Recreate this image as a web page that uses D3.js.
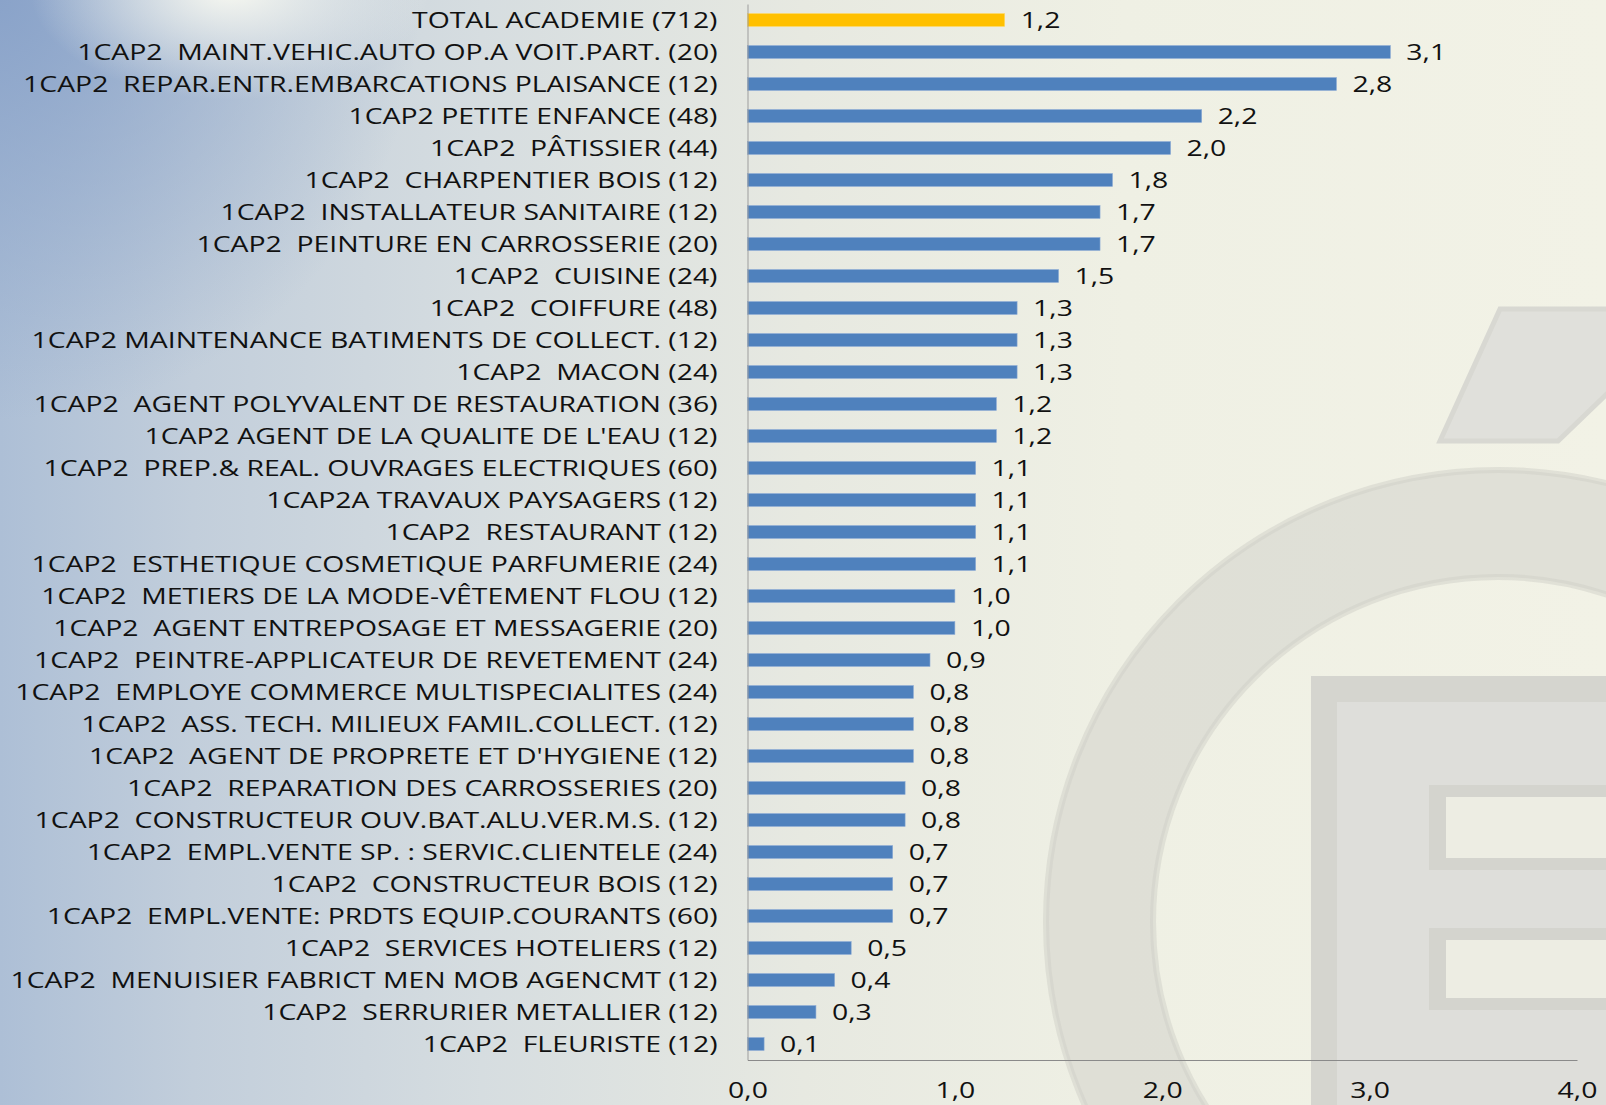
<!DOCTYPE html>
<html>
<head>
<meta charset="utf-8">
<script src="https://cdn.jsdelivr.net/npm/d3@7"></script>
<style>
  html, body { margin: 0; padding: 0; overflow: hidden; }
  svg { display: block; }
  text { font-family: "Open Sans", sans-serif; white-space: pre; }
</style>
</head>
<body>
<svg id="viz" width="1606" height="1105"></svg>
<script>
const W = 1606, H = 1105;

// données (taux en %)
const categories = [
  "TOTAL ACADEMIE (712)",
  "1CAP2  MAINT.VEHIC.AUTO OP.A VOIT.PART. (20)",
  "1CAP2  REPAR.ENTR.EMBARCATIONS PLAISANCE (12)",
  "1CAP2 PETITE ENFANCE (48)",
  "1CAP2  PÂTISSIER (44)",
  "1CAP2  CHARPENTIER BOIS (12)",
  "1CAP2  INSTALLATEUR SANITAIRE (12)",
  "1CAP2  PEINTURE EN CARROSSERIE (20)",
  "1CAP2  CUISINE (24)",
  "1CAP2  COIFFURE (48)",
  "1CAP2 MAINTENANCE BATIMENTS DE COLLECT. (12)",
  "1CAP2  MACON (24)",
  "1CAP2  AGENT POLYVALENT DE RESTAURATION (36)",
  "1CAP2 AGENT DE LA QUALITE DE L'EAU (12)",
  "1CAP2  PREP.& REAL. OUVRAGES ELECTRIQUES (60)",
  "1CAP2A TRAVAUX PAYSAGERS (12)",
  "1CAP2  RESTAURANT (12)",
  "1CAP2  ESTHETIQUE COSMETIQUE PARFUMERIE (24)",
  "1CAP2  METIERS DE LA MODE-VÊTEMENT FLOU (12)",
  "1CAP2  AGENT ENTREPOSAGE ET MESSAGERIE (20)",
  "1CAP2  PEINTRE-APPLICATEUR DE REVETEMENT (24)",
  "1CAP2  EMPLOYE COMMERCE MULTISPECIALITES (24)",
  "1CAP2  ASS. TECH. MILIEUX FAMIL.COLLECT. (12)",
  "1CAP2  AGENT DE PROPRETE ET D'HYGIENE (12)",
  "1CAP2  REPARATION DES CARROSSERIES (20)",
  "1CAP2  CONSTRUCTEUR OUV.BAT.ALU.VER.M.S. (12)",
  "1CAP2  EMPL.VENTE SP. : SERVIC.CLIENTELE (24)",
  "1CAP2  CONSTRUCTEUR BOIS (12)",
  "1CAP2  EMPL.VENTE: PRDTS EQUIP.COURANTS (60)",
  "1CAP2  SERVICES HOTELIERS (12)",
  "1CAP2  MENUISIER FABRICT MEN MOB AGENCMT (12)",
  "1CAP2  SERRURIER METALLIER (12)",
  "1CAP2  FLEURISTE (12)"
];
const values = [
  1.24, 3.10, 2.84, 2.19, 2.04, 1.76, 1.70, 1.70, 1.50, 1.30, 1.30,
  1.30, 1.20, 1.20, 1.10, 1.10, 1.10, 1.10, 1.00, 1.00, 0.88, 0.80,
  0.80, 0.80, 0.76, 0.76, 0.70, 0.70, 0.70, 0.50, 0.42, 0.33, 0.08
];
const xTicks = [0, 1, 2, 3, 4];

const svg = d3.select("#viz");
const fr = d3.formatLocale({ decimal: ",", thousands: " ", grouping: [3], currency: ["", "€"] });
const fmt = fr.format(".1f");

// ---- fond dégradé ----
const defs = svg.append("defs");
const lin = defs.append("linearGradient").attr("id", "bgLin");
[[0, "#adbfd6"], [0.12, "#c2cedb"], [0.3, "#d6dde0"], [0.5, "#e7e9e1"], [0.7, "#eff0e4"], [1, "#f2f2e6"]]
  .forEach(([o, c]) => lin.append("stop").attr("offset", o).attr("stop-color", c));

const blue = defs.append("radialGradient").attr("id", "bgBlue")
  .attr("gradientUnits", "userSpaceOnUse").attr("cx", 0).attr("cy", 0).attr("r", 420);
blue.append("stop").attr("offset", 0).attr("stop-color", "#86a0c8").attr("stop-opacity", 0.9);
blue.append("stop").attr("offset", 1).attr("stop-color", "#86a0c8").attr("stop-opacity", 0);

const glow = defs.append("radialGradient").attr("id", "bgGlow");
glow.append("stop").attr("offset", 0).attr("stop-color", "#fbfbf2").attr("stop-opacity", 0.95);
glow.append("stop").attr("offset", 1).attr("stop-color", "#fbfbf2").attr("stop-opacity", 0);

svg.append("rect").attr("width", W).attr("height", H).attr("fill", "url(#bgLin)");
svg.append("rect").attr("width", W).attr("height", H).attr("fill", "url(#bgBlue)");
svg.append("ellipse").attr("cx", 230).attr("cy", -10).attr("rx", 200).attr("ry", 110)
  .attr("fill", "url(#bgGlow)");

// ---- filigrane (logo) ----
const wm = svg.append("g").attr("class", "watermark");
const ring = d3.arc().innerRadius(345).outerRadius(452).startAngle(0).endAngle(2 * Math.PI);
wm.append("path").attr("d", ring()).attr("transform", "translate(1498,922)")
  .attr("fill", "#d9d9d2").attr("fill-opacity", 0.75)
  .attr("stroke", "#cfcfc8").attr("stroke-width", 6).attr("stroke-opacity", 0.5);
wm.append("rect").attr("x", 1324).attr("y", 689).attr("width", 320).attr("height", 460)
  .attr("fill", "#dededa").attr("stroke", "#d5d5cf").attr("stroke-width", 26);
[[797, 61], [940, 58]].forEach(([y0, h]) => {
  wm.append("rect").attr("x", 1429).attr("y", y0 - 12).attr("width", 200).attr("height", h + 24)
    .attr("fill", "#d4d4ce");
  wm.append("rect").attr("x", 1446).attr("y", y0).attr("width", 200).attr("height", h)
    .attr("fill", "#edede3");
});
wm.append("path")
  .attr("d", "M1500,309 L1640,309 L1640,362 L1558,441 L1440,441 Z")
  .attr("fill", "#e0e0db").attr("stroke", "#d8d8d2").attr("stroke-width", 5);

// ---- échelles ----
const x = d3.scaleLinear().domain([0, 4]).range([747.5, 1577]);
const y = d3.scaleBand().domain(categories).range([4, 1060])
  .paddingInner(0.6).paddingOuter(0.3);

// barres
svg.append("g").selectAll("rect")
  .data(categories)
  .join("rect")
  .attr("x", x(0))
  .attr("y", d => y(d))
  .attr("width", (d, i) => x(values[i]) - x(0))
  .attr("height", y.bandwidth())
  .attr("fill", (d, i) => i === 0 ? "#ffc000" : "#4f81bd")
  .attr("stroke", (d, i) => i === 0 ? "#ffd860" : "#8aaad4")
  .attr("stroke-width", 0.6);

// axe vertical + libellés
const yAxis = svg.append("g")
  .attr("transform", `translate(${x(0)},0)`)
  .call(d3.axisLeft(y).tickSize(0).tickSizeOuter(0));
yAxis.select(".domain").attr("stroke", "#9d9d9d");
const yLabels = yAxis.selectAll(".tick text")
  .attr("font-size", 22).attr("fill", "#111")
  .attr("font-family", "Open Sans, sans-serif")
  .attr("xml:space", "preserve")
  .attr("x", 0).attr("dy", "0.36em");

// le texte de l'original est étiré horizontalement
const wTotal = yLabels.filter(d => d === categories[0]).node().getComputedTextLength();
const wLong = yLabels.filter(d => d === categories[30]).node().getComputedTextLength();
const k = (306 / wTotal + 707 / wLong) / 2;
yLabels.attr("transform", `translate(-30,0) scale(${k},1)`);

// valeurs
svg.append("g").selectAll("text")
  .data(categories)
  .join("text")
  .attr("transform", (d, i) => `translate(${x(values[i]) + 16},${y(d) + y.bandwidth() / 2}) scale(${k},1)`)
  .attr("dy", "0.36em")
  .attr("font-size", 22)
  .attr("fill", "#111")
  .text((d, i) => fmt(values[i]));

// axe horizontal
const xAxis = svg.append("g")
  .attr("transform", `translate(0,${y.range()[1]})`)
  .call(d3.axisBottom(x).tickValues(xTicks).tickFormat(fmt).tickSize(0).tickSizeOuter(0));
xAxis.select(".domain").attr("stroke", "#8a8a8a");
xAxis.selectAll(".tick text")
  .attr("font-size", 22).attr("fill", "#111")
  .attr("font-family", "Open Sans, sans-serif")
  .attr("y", 0).attr("dy", null)
  .attr("transform", `translate(0,38) scale(${k},1)`);
</script>
</body>
</html>
